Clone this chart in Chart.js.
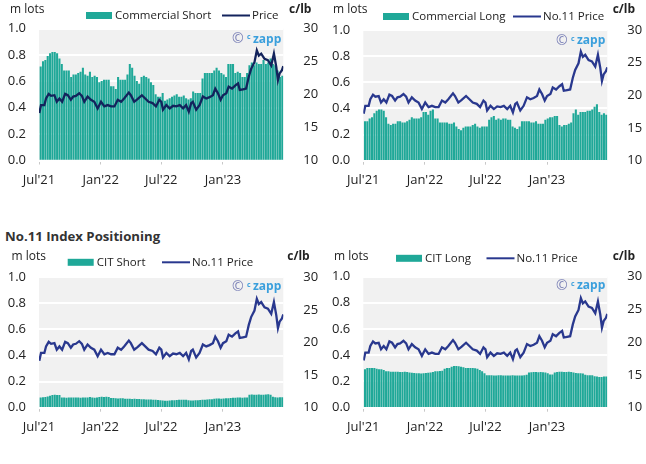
<!DOCTYPE html>
<html>
<head>
<meta charset="utf-8">
<script src="https://cdn.jsdelivr.net/npm/chart.js@4.4.0/dist/chart.umd.min.js"></script>
<style>
  body { margin: 0; background: #fff; width: 646px; height: 464px; position: relative; overflow: hidden; }
  canvas { position: absolute; }
  #title { position: absolute; left: 5px; top: 227px; font: bold 13.2px 'Open Sans', sans-serif; color: #333; }
</style>
</head>
<body>
<div id="title">No.11 Index Positioning</div>
<canvas id="c1" width="323" height="200" style="left:0;top:0"></canvas>
<canvas id="c2" width="323" height="200" style="left:323px;top:0"></canvas>
<canvas id="c3" width="323" height="219" style="left:0;top:245px"></canvas>
<canvas id="c4" width="323" height="219" style="left:323px;top:245px"></canvas>
<script>
// axis ticks
const startDate = '2021-07-01';
const endDate = '2023-06-30';
const firstWeek = '2021-07-06';
const tickDates = ['2021-07-01', '2022-01-01', '2022-07-01', '2023-01-01'];
const tickLabels = ["Jul'21", "Jan'22", "Jul'22", "Jan'23"];

// weekly positions, m lots
const commShort = [0.71,0.75,0.76,0.79,0.81,0.82,0.82,0.81,0.77,0.73,
  0.68,0.68,0.68,0.63,0.65,0.65,0.66,0.67,0.70,0.65,
  0.64,0.67,0.63,0.64,0.63,0.59,0.60,0.61,0.61,0.61,
  0.56,0.56,0.54,0.63,0.61,0.61,0.61,0.65,0.73,0.70,
  0.64,0.60,0.58,0.63,0.64,0.63,0.62,0.59,0.57,0.50,
  0.48,0.48,
  0.51,0.45,0.46,0.47,0.48,0.49,0.50,0.48,0.48,0.49,
  0.47,0.46,0.47,0.52,0.51,0.51,0.51,0.62,0.66,0.66,
  0.66,0.66,0.68,0.70,0.68,0.66,0.65,0.63,0.73,0.73,
  0.73,0.66,0.67,0.66,0.63,0.63,0.66,0.72,0.74,0.72,
  0.74,0.73,0.73,0.76,0.73,0.74,0.77,0.73,0.72,0.68,
  0.63,0.64];
const commLong = [0.30,0.30,0.32,0.33,0.36,0.38,0.39,0.39,0.38,0.33,
  0.28,0.27,0.28,0.28,0.30,0.30,0.29,0.29,0.30,0.31,
  0.33,0.32,0.32,0.32,0.33,0.37,0.37,0.35,0.38,0.39,
  0.32,0.32,0.29,0.29,0.29,0.29,0.28,0.28,0.29,0.26,
  0.24,0.23,0.25,0.26,0.26,0.26,0.27,0.28,0.26,0.25,
  0.26,0.26,
  0.26,0.31,0.33,0.34,0.31,0.32,0.31,0.32,0.32,0.31,
  0.31,0.26,0.25,0.24,0.26,0.30,0.30,0.30,0.30,0.29,
  0.29,0.30,0.28,0.28,0.28,0.31,0.32,0.33,0.33,0.34,
  0.34,0.27,0.26,0.27,0.27,0.28,0.29,0.36,0.39,0.35,
  0.37,0.37,0.37,0.38,0.38,0.39,0.41,0.43,0.37,0.35,
  0.36,0.35];
const citShort = [0.075,0.077,0.079,0.084,0.089,0.094,0.097,0.094,0.094,0.075,
  0.075,0.074,0.075,0.075,0.076,0.075,0.075,0.074,0.075,0.075,
  0.076,0.079,0.075,0.074,0.076,0.079,0.082,0.080,0.082,0.080,
  0.072,0.072,0.069,0.068,0.070,0.070,0.066,0.066,0.067,0.065,
  0.066,0.064,0.064,0.062,0.062,0.061,0.060,0.060,0.059,0.058,
  0.056,0.055,
  0.052,0.050,0.050,0.052,0.054,0.055,0.057,0.058,0.058,0.059,
  0.058,0.055,0.052,0.052,0.054,0.055,0.056,0.058,0.058,0.060,
  0.062,0.063,0.066,0.068,0.068,0.067,0.068,0.069,0.070,0.072,
  0.073,0.073,0.075,0.075,0.074,0.076,0.076,
  0.097,0.098,0.097,0.097,0.098,0.097,0.097,0.099,0.100,0.096,
  0.082,0.078,0.076,0.077,0.077];
const citLong = [0.29,0.30,0.30,0.30,0.30,0.295,0.29,0.29,0.285,
  0.275,0.275,0.272,0.272,0.272,0.272,0.27,0.27,0.272,0.27,
  0.265,0.263,0.262,0.26,0.26,0.258,0.26,0.262,0.263,0.265,0.27,
  0.275,0.276,0.278,0.28,
  0.295,0.30,0.30,0.31,
  0.315,0.315,0.313,0.31,
  0.305,0.30,0.30,0.30,0.30,0.298,0.295,
  0.285,0.275,0.26,
  0.245,0.244,0.244,0.243,0.243,0.244,0.244,0.243,0.243,0.242,0.243,0.244,0.243,0.242,0.242,0.243,0.244,0.248,
  0.265,0.268,0.27,0.27,0.268,0.27,0.268,0.265,0.26,
  0.25,0.25,
  0.265,0.27,0.272,0.272,0.27,0.27,0.272,0.27,0.265,
  0.262,0.26,0.26,0.258,
  0.248,0.245,0.245,0.245,
  0.238,0.235,0.232,0.232,0.235,0.235];

// No.11 price, c/lb (days after 1 Jul 2021)
const priceDays = [1,6,16,21,29,36,46,53,61,69,78,86,95,102,110,120,128,135,145,155,
  165,175,185,195,205,215,225,235,245,254,268,274,284,294,307,317,327,339,349,359,
  365,370,380,390,400,410,420,430,439,447,454,459,469,479,489,499,509,519,526,534,
  542,549,559,566,576,586,594,599,609,618,626,633,643,650,656,663,673,683,693,701,
  708,713,718,725,729];
const priceVals = [17.2,18.4,18.4,19.4,20.1,19.8,19.9,18.9,19.4,18.9,20.1,19.9,19.2,19.7,19.8,20.2,19.8,18.9,19.7,19.2,
  18.9,17.9,18.9,18.2,18.4,18.2,18.2,19.2,18.9,19.4,20.3,19.9,18.9,19.3,19.9,19.4,18.9,18.7,18.2,19.2,
  18.9,17.7,18.4,17.9,18.3,18.2,18.4,17.9,18.4,17.4,18.7,18.9,17.7,18.4,19.7,19.4,19.6,19.9,20.9,20.2,
  19.2,19.9,20.2,21.2,20.9,21.4,21.7,20.7,20.8,20.9,22.7,23.9,24.9,26.7,25.9,26.2,25.4,25.2,24.4,26.2,
  24.2,22.2,23.2,23.7,24.3];

const dayOf = s => Math.round((Date.parse(s) - Date.parse(startDate)) / 864e5);
const tickDays = tickDates.map(dayOf);
const endDay = dayOf(endDate);
const week0 = dayOf(firstWeek);

const textColor = '#222';
const barColor = '#1fa898';
const tickFont = { family: "'Open Sans', sans-serif", size: 13 };

function decorPlugin(p) {
  return {
    id: 'decor',
    beforeDraw(chart) {
      const { ctx, chartArea: a } = chart;
      ctx.save();
      ctx.fillStyle = '#f1f1f1';
      ctx.fillRect(a.left, a.top, a.right - a.left, a.bottom - a.top);
      ctx.restore();
    },
    afterDraw(chart) {
      const { ctx, chartArea: a } = chart;
      ctx.save();
      ctx.textBaseline = 'middle';
      ctx.fillStyle = textColor;
      ctx.font = "12px 'Open Sans'";
      ctx.fillText('m lots', p.unitX, p.unitY);
      ctx.font = "bold 12px 'Open Sans'";
      ctx.fillText('c/lb', p.rUnitX, p.unitY);
      // legend
      ctx.fillStyle = barColor;
      ctx.fillRect(p.legX, p.legY - 3.5, 26, 7);
      ctx.fillStyle = textColor;
      ctx.font = "11.5px 'Open Sans'";
      ctx.fillText(p.barLabel, p.legX + 29, p.legY);
      ctx.strokeStyle = p.lineColor;
      ctx.lineWidth = 2;
      ctx.beginPath();
      ctx.moveTo(p.lineX, p.legY);
      ctx.lineTo(p.lineX + 28, p.legY);
      ctx.stroke();
      ctx.fillText(p.lineLabel, p.lineX + 30, p.legY);
      // watermark
      ctx.font = "bold 12px 'Open Sans'";
      const zw = ctx.measureText('zapp').width;
      let x = a.right - 2 - zw;
      const y = a.top + p.wmDy;
      ctx.fillStyle = '#3a9fdc';
      ctx.fillText('zapp', x, y);
      ctx.font = "bold 7px 'Open Sans'";
      x -= 6;
      ctx.fillText('c', x, y - 2);
      ctx.font = "14px 'Open Sans'";
      ctx.fillStyle = '#7d83b8';
      x -= 15;
      ctx.fillText('\u00a9', x, y);
      ctx.restore();
    }
  };
}

function makePanel(id, p) {
  const canvas = document.getElementById(id);
  const W = canvas.width, H = canvas.height;
  const bars = p.values.map((v, i) => ({ x: week0 + 7 * i, y: v }));
  const price = priceDays.map((d, i) => ({ x: d, y: priceVals[i] }));
  return new Chart(canvas, {
    type: 'bar',
    data: {
      datasets: [
        { type: 'line', label: p.lineLabel, data: price, yAxisID: 'y2', borderColor: p.lineColor,
          borderWidth: 2.3, pointRadius: 0, tension: 0, order: 0 },
        { label: p.barLabel, data: bars, yAxisID: 'y', backgroundColor: barColor,
          barThickness: 1.4, order: 1 }
      ]
    },
    options: {
      responsive: false,
      animation: false,
      layout: { padding: { top: p.top, left: 0, right: 0, bottom: 0 } },
      plugins: { legend: { display: false }, tooltip: { enabled: false } },
      scales: {
        x: {
          type: 'linear', min: 0, max: endDay, offset: false,
          afterBuildTicks: s => { s.ticks = tickDays.map(v => ({ value: v })); },
          afterFit: s => { s.height = H - p.bottom; },
          grid: { offset: false, drawOnChartArea: false, tickLength: 4, color: '#c8c8c8' },
          border: { display: false },
          ticks: { font: tickFont, color: textColor, padding: 8, maxRotation: 0, autoSkip: false,
            callback: v => tickLabels[tickDays.indexOf(v)] }
        },
        y: {
          position: 'left', min: 0, max: 1,
          afterFit: s => { s.width = p.left; },
          grid: { color: '#ffffff', lineWidth: 2, drawTicks: false },
          border: { display: false },
          ticks: { stepSize: 0.2, font: tickFont, color: textColor, padding: 13,
            callback: v => v.toFixed(1) }
        },
        y2: {
          position: 'right', min: 10, max: 30,
          afterFit: s => { s.width = W - p.right; },
          grid: { display: false },
          border: { display: false },
          ticks: { stepSize: 5, font: tickFont, color: textColor, padding: 12 }
        }
      }
    },
    plugins: [decorPlugin(p)]
  });
}

makePanel('c1', { values: commShort, barLabel: 'Commercial Short', lineLabel: 'Price', lineColor: '#13235c',
  left: 39, right: 283.3, top: 28.6, bottom: 160.5,
  unitX: 10, unitY: 10, rUnitX: 289, legX: 86, legY: 15.5, lineX: 222, wmDy: 10.5 });
makePanel('c2', { values: commLong, barLabel: 'Commercial Long', lineLabel: 'No.11 Price', lineColor: '#29388e',
  left: 40.3, right: 284.3, top: 30, bottom: 160.7,
  unitX: 10, unitY: 10, rUnitX: 289.7, legX: 60, legY: 16.5, lineX: 190, wmDy: 11 });
makePanel('c3', { values: citShort, barLabel: 'CIT Short', lineLabel: 'No.11 Price', lineColor: '#29388e',
  left: 39, right: 283.3, top: 32.3, bottom: 162.7,
  unitX: 11.5, unitY: 11.7, rUnitX: 287.3, legX: 67.7, legY: 17.3, lineX: 162, wmDy: 9.5 });
makePanel('c4', { values: citLong, barLabel: 'CIT Long', lineLabel: 'No.11 Price', lineColor: '#29388e',
  left: 40.3, right: 284.3, top: 31.5, bottom: 162.7,
  unitX: 11, unitY: 11.7, rUnitX: 289.7, legX: 73, legY: 13.3, lineX: 163.5, wmDy: 9.5 });
</script>
</body>
</html>
